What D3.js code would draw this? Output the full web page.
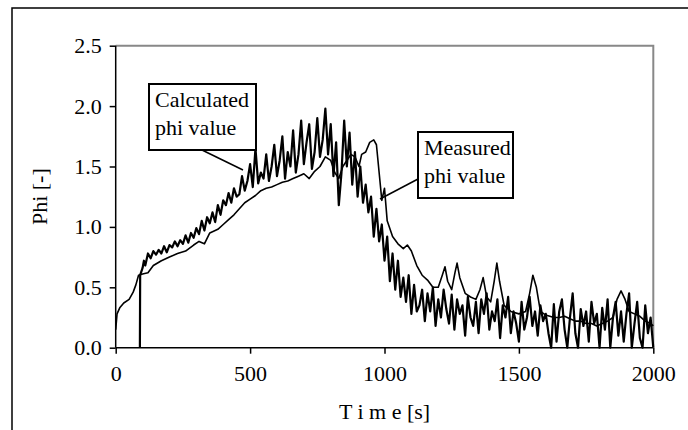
<!DOCTYPE html>
<html><head><meta charset="utf-8">
<script src="https://cdn.jsdelivr.net/npm/d3@7"></script>
<style>
html,body{margin:0;padding:0;background:#fff;}
svg{display:block;}
text{font-family:"Liberation Serif","Times New Roman",serif;fill:#000;}
</style></head>
<body>
<svg id="chart" width="688" height="430"></svg>
<script>
// ---- data ----
const xTicks = [0, 500, 1000, 1500, 2000];
const yTicks = [0, 0.5, 1.0, 1.5, 2.0, 2.5];
const xTitle = "T i m e [s]";
const yTitle = "Phi [-]";
const calcLabel = ["Calculated", "phi value"];
const measLabel = ["Measured", "phi value"];

// Measured phi value (smoother curve)
const measTime = [0,5,15,30,50,65,75,85,100,120,140,170,200,230,260,290,310,330,350,380,400,420,440,460,480,500,520,540,560,580,600,620,640,660,680,700,720,740,760,780,800,815,830,845,860,875,890,905,915,930,945,960,970,980,990,1000,1010,1030,1050,1070,1085,1100,1120,1140,1160,1180,1200,1215,1225,1235,1250,1262,1270,1280,1300,1320,1340,1355,1367,1380,1395,1408,1418,1428,1445,1470,1500,1525,1540,1552,1565,1580,1600,1630,1650,1670,1690,1710,1730,1750,1770,1790,1810,1830,1850,1865,1880,1895,1910,1930,1950,1970,1990,2000];
const measPhi  = [0.15,0.28,0.33,0.37,0.40,0.46,0.52,0.60,0.61,0.62,0.68,0.72,0.75,0.78,0.80,0.85,0.88,0.86,0.95,0.98,1.02,1.06,1.10,1.15,1.20,1.23,1.26,1.30,1.32,1.33,1.35,1.37,1.38,1.40,1.42,1.44,1.40,1.46,1.50,1.58,1.55,1.45,1.40,1.50,1.55,1.60,1.58,1.50,1.60,1.62,1.70,1.72,1.68,1.45,1.22,1.32,1.05,0.92,0.86,0.82,0.85,0.80,0.68,0.60,0.56,0.50,0.50,0.60,0.67,0.55,0.48,0.62,0.70,0.58,0.45,0.42,0.40,0.48,0.58,0.42,0.38,0.55,0.70,0.55,0.35,0.30,0.28,0.30,0.45,0.60,0.50,0.30,0.27,0.25,0.25,0.26,0.24,0.22,0.22,0.20,0.20,0.18,0.20,0.22,0.25,0.40,0.47,0.40,0.30,0.28,0.26,0.22,0.20,0.18];

// Calculated phi value (noisy curve)
const calcTime = [90,91,100,105,110,120,130,140,150,160,170,180,190,200,210,220,230,240,250,260,270,280,290,300,310,320,330,340,350,360,370,380,390,400,410,420,430,440,450,460,470,480,490,500,510,520,530,540,550,560,570,580,590,600,610,620,630,640,650,660,670,680,690,700,710,720,730,740,750,760,770,780,790,800,810,820,830,840,850,860,870,880,890,900,910,920,930,940,950,960,970,980,990,1000,1010,1020,1030,1040,1050,1060,1070,1080,1090,1100,1110,1120,1130,1140,1150,1160,1170,1180,1190,1200,1210,1220,1230,1240,1250,1260,1270,1280,1290,1300,1310,1320,1330,1340,1350,1360,1370,1380,1390,1400,1410,1420,1430,1440,1450,1460,1470,1480,1490,1500,1510,1520,1530,1540,1550,1560,1570,1580,1590,1600,1610,1620,1630,1640,1650,1660,1670,1680,1690,1700,1710,1720,1730,1740,1750,1760,1770,1780,1790,1800,1810,1820,1830,1840,1850,1860,1870,1880,1890,1900,1910,1920,1930,1940,1950,1960,1970,1980,1990,2000];
const calcPhi  = [0,0.60,0.66,0.72,0.68,
  0.78,0.74,0.80,0.77,0.81,0.78,0.84,0.79,0.85,0.83,0.88,0.84,0.89,0.86,0.93,0.87,0.95,0.91,0.99,0.94,1.05,0.97,1.08,1.03,1.12,1.04,1.18,1.10,
  1.22,1.18,1.28,1.20,1.32,1.25,1.27,1.42,1.30,1.38,1.52,1.33,1.65,1.36,1.45,1.40,1.60,1.38,1.50,1.68,1.42,1.55,1.75,1.40,1.62,1.50,1.80,1.45,1.60,1.88,1.52,1.70,1.85,1.48,1.62,1.90,1.58,1.72,1.98,1.60,1.85,1.42,1.70,1.18,1.45,1.88,1.50,1.78,1.35,1.62,1.25,1.50,1.20,1.35,1.12,1.25,0.92,1.15,0.88,1.02,0.72,
  0.92,0.55,0.78,0.48,0.72,0.42,0.58,0.38,0.60,0.28,0.52,0.30,0.35,0.48,0.22,0.45,0.30,0.50,0.18,0.40,0.25,0.48,0.32,0.20,0.44,0.15,0.40,0.28,0.35,0.10,0.42,0.25,0.18,0.38,0.12,0.40,0.28,0.45,0.15,0.30,0.22,0.40,0.08,0.35,0.25,0.42,0.12,0.30,0.20,0.05,0.38,0.15,0.25,0.42,0.18,0.30,0.10,0.35,0.22,0.28,0.12,0.00,0.36,0.05,0.30,0.40,0.15,0.00,0.25,0.45,0.12,0.00,0.32,0.18,0.30,0.05,0.38,0.20,0.28,0.00,0.33,0.15,0.40,0.00,0.25,0.38,0.10,0.30,0.05,0.28,0.45,0.00,0.20,0.38,0.08,0.00,0.35,0.12,0.25,0.00];

// ---- layout ----
const svg = d3.select("#chart");
const L = 115.7, R = 653.3, T = 45.7, B = 347.7;
const x = d3.scaleLinear().domain([0, 2000]).range([L, R]);
const y = d3.scaleLinear().domain([0, 2.5]).range([B, T]);
const FS = 22;

// outer frame
svg.append("rect").attr("x", 12).attr("y", 8).attr("width", 760).attr("height", 500)
  .attr("fill", "none").attr("stroke", "#000").attr("stroke-width", 1.5);

// plot frame (top/right gray)
svg.append("path")
  .attr("d", `M${L},${T}H${R}V${B}`)
  .attr("fill", "none").attr("stroke", "#888").attr("stroke-width", 2);

// axes
const xAxis = d3.axisBottom(x).tickValues(xTicks).tickSize(6).tickPadding(12).tickFormat(d3.format("d"));
const yAxis = d3.axisLeft(y).tickValues(yTicks).tickSize(6).tickPadding(8).tickFormat(d3.format(".1f"));
const gx = svg.append("g").attr("transform", `translate(0,${B})`).call(xAxis);
const gy = svg.append("g").attr("transform", `translate(${L},0)`).call(yAxis);
[gx, gy].forEach(g => {
  g.select(".domain").attr("stroke", "#000").attr("stroke-width", 1.5);
  g.selectAll(".tick line").attr("stroke", "#000").attr("stroke-width", 1.5);
  g.selectAll(".tick text").attr("font-family", "Liberation Serif").attr("font-size", FS).attr("fill", "#000");
});
gx.select(".domain").attr("d", `M${L},0H${R}`);
gy.select(".domain").attr("d", `M0,${B}V${T}`);

// axis titles
svg.append("text").attr("x", (L + R) / 2).attr("y", 419).attr("text-anchor", "middle")
  .attr("font-size", FS).text(xTitle);
svg.append("text").attr("transform", `translate(47,${(T + B) / 2}) rotate(-90)`)
  .attr("text-anchor", "middle").attr("font-size", FS).text(yTitle);

// series
const line = d3.line().x(d => x(d[0])).y(d => y(d[1]));
const meas = measTime.map((t, i) => [t, measPhi[i]]);
const calc = calcTime.map((t, i) => [t, calcPhi[i]]);
svg.append("path").attr("d", line(meas)).attr("fill", "none").attr("stroke", "#000")
  .attr("stroke-width", 1.6).attr("stroke-linejoin", "round");
svg.append("path").attr("d", line(calc)).attr("fill", "none").attr("stroke", "#000")
  .attr("stroke-width", 2.2).attr("stroke-linejoin", "round");

// annotations
function callout(bx, by, bw, bh, lines, lx1, ly1, lx2, ly2) {
  svg.append("line").attr("x1", lx1).attr("y1", ly1).attr("x2", lx2).attr("y2", ly2)
    .attr("stroke", "#000").attr("stroke-width", 1.5);
  svg.append("rect").attr("x", bx).attr("y", by).attr("width", bw).attr("height", bh)
    .attr("fill", "#fff").attr("stroke", "#000").attr("stroke-width", 2);
  lines.forEach((s, i) => {
    svg.append("text").attr("x", bx + 6).attr("y", by + 23 + i * 28)
      .attr("font-size", FS).text(s);
  });
}
callout(149, 84, 107, 66, calcLabel, 202, 150, 243, 170);
callout(418, 132, 95, 66, measLabel, 418, 179, 380, 199);
</script>
</body></html>
